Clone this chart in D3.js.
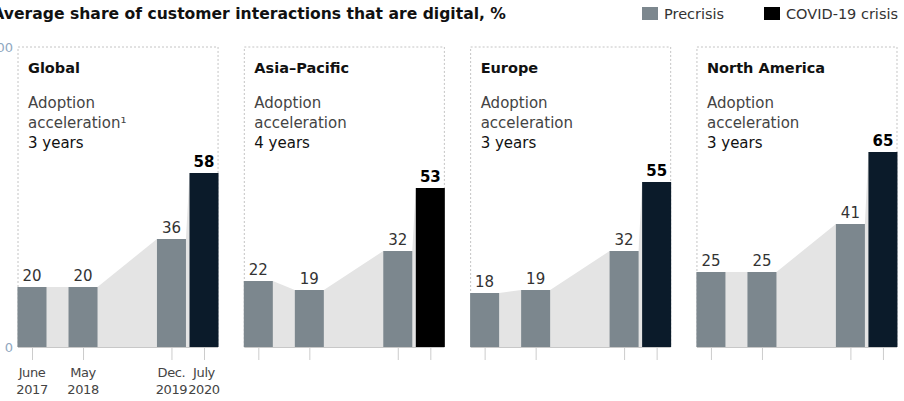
<!DOCTYPE html>
<html>
<head>
<meta charset="utf-8">
<script src="https://cdn.jsdelivr.net/npm/d3@7"></script>
<style>
  html, body { margin: 0; padding: 0; background: #fff; overflow: hidden; }
  svg { display: block; font-family: "DejaVu Sans", sans-serif; }
</style>
</head>
<body>
<svg id="chart" width="904" height="401"></svg>
<script>
// ---- Data ----
const regions = ["Global", "Asia\u2013Pacific", "Europe", "North America"];
const periodMonths = ["2017-06", "2018-05", "2019-12", "2020-07"];
const periodLabels = [["June", "2017"], ["May", "2018"], ["Dec.", "2019"], ["July", "2020"]];
const phases = ["Precrisis", "Precrisis", "Precrisis", "COVID-19 crisis"];
const globalValues = [20, 20, 36, 58];
const asiaPacificValues = [22, 19, 32, 53];
const europeValues = [18, 19, 32, 55];
const northAmericaValues = [25, 25, 41, 65];
const accelerationYears = [3, 4, 3, 3];
const yTickValues = [0, 100];
const legendLabels = ["Precrisis", "COVID-19 crisis"];
const titleText = "Average share of customer interactions that are digital, %";

const regionValues = [globalValues, asiaPacificValues, europeValues, northAmericaValues];

// ---- Styles ----
const precrisisColor = "#7c878e";
const covidColors = ["#0b1b2a", "#000000", "#0b1b2a", "#0b1b2a"];
const legendColors = ["#7c878e", "#000000"];

const svg = d3.select("#chart");
const parseMonth = d3.timeParse("%Y-%m");
const dates = periodMonths.map(parseMonth);

const panelX = d3.scaleBand().domain(regions).range([18, 897]).paddingInner(0.116);
const panelW = panelX.bandwidth();
const xTime = d3.scaleTime().domain(d3.extent(dates)).range([14, 186]);
const barW = 29;
const y = d3.scaleLinear().domain([0, 100]).range([347, 47]);

// Title
svg.append("text")
  .attr("x", 506).attr("y", 19)
  .attr("text-anchor", "end")
  .attr("font-size", 15.6).attr("font-weight", "bold").attr("fill", "#111")
  .text(titleText);

// Legend
const legendX = [642, 764];
const lg = svg.selectAll("g.legend").data(legendLabels).join("g").attr("class", "legend")
  .attr("transform", (d, i) => `translate(${legendX[i]},0)`);
lg.append("rect").attr("x", 0).attr("y", 7).attr("width", 16).attr("height", 13)
  .attr("fill", (d, i) => legendColors[i]);
lg.append("text").attr("x", 22).attr("y", 19).attr("font-size", 14.5).attr("fill", "#333").text(d => d);

// Y labels
svg.selectAll("text.ylab").data(yTickValues).join("text").attr("class", "ylab")
  .attr("x", 13).attr("y", d => y(d)).attr("dy", "0.35em")
  .attr("text-anchor", "end").attr("font-size", 13).attr("fill", "#8fa8bf")
  .text(d => d);

regions.forEach((region, ri) => {
  const vals = regionValues[ri];
  const g = svg.append("g").attr("transform", `translate(${panelX(region)},0)`);
  const pts = vals.map((v, i) => ({ v, x: xTime(dates[i]), phase: phases[i] }));

  // Dotted frame
  g.append("path")
    .attr("d", `M0,${y(0)}V${y(100)}H${panelW}V${y(0)}`)
    .attr("fill", "none").attr("stroke", "#c4c4c4").attr("stroke-width", 1)
    .attr("stroke-dasharray", "2,2");

  // Connecting area
  const areaPts = [];
  pts.forEach(p => { areaPts.push({ x: p.x - barW / 2, v: p.v }); areaPts.push({ x: p.x + barW / 2, v: p.v }); });
  g.append("path")
    .attr("d", d3.area().x(d => d.x).y0(y(0)).y1(d => y(d.v))(areaPts))
    .attr("fill", "#e4e4e4");

  // Bars
  g.selectAll("rect.bar").data(pts).join("rect").attr("class", "bar")
    .attr("x", d => d.x - barW / 2).attr("width", barW)
    .attr("y", d => y(d.v)).attr("height", d => y(0) - y(d.v))
    .attr("fill", d => d.phase === "Precrisis" ? precrisisColor : covidColors[ri]);

  // Value labels
  g.selectAll("text.val").data(pts).join("text").attr("class", "val")
    .attr("x", d => d.x).attr("y", d => y(d.v) - 6)
    .attr("text-anchor", "middle").attr("font-size", 15)
    .attr("font-weight", d => d.phase === "Precrisis" ? "normal" : "bold")
    .attr("fill", d => d.phase === "Precrisis" ? "#333" : "#000")
    .text(d => d.v);

  // Baseline
  g.append("line").attr("x1", 0).attr("x2", panelW).attr("y1", y(0) + 0.5).attr("y2", y(0) + 0.5)
    .attr("stroke", "#c8c8c8").attr("stroke-width", 1);

  // Ticks
  const axis = d3.axisBottom(xTime).tickValues(dates).tickSize(12).tickFormat("");
  const ax = g.append("g").attr("transform", `translate(0,${y(0) + 1})`).call(axis);
  ax.select(".domain").remove();
  ax.selectAll(".tick line").attr("stroke", "#cccccc");

  if (ri === 0) {
    const lab = g.selectAll("text.xlab").data(dates).join("text").attr("class", "xlab")
      .attr("text-anchor", "middle").attr("font-size", 13).attr("letter-spacing", -0.4)
      .attr("fill", "#444");
    lab.each(function(d, i) {
      const t = d3.select(this);
      periodLabels[i].forEach((s, k) => {
        t.append("tspan").attr("x", xTime(d)).attr("y", 377 + k * 17).text(s);
      });
    });
  }

  // Panel text
  g.append("text").attr("x", 10).attr("y", 73).attr("font-size", 14.5).attr("font-weight", "bold")
    .attr("fill", "#111").text(region);
  g.append("text").attr("x", 10).attr("y", 108).attr("font-size", 15).attr("fill", "#444").text("Adoption");
  g.append("text").attr("x", 10).attr("y", 128).attr("font-size", 15).attr("fill", "#444")
    .text(ri === 0 ? "acceleration\u00b9" : "acceleration");
  g.append("text").attr("x", 10).attr("y", 148).attr("font-size", 15).attr("fill", "#111")
    .text(`${accelerationYears[ri]} years`);
});
</script>
</body>
</html>
